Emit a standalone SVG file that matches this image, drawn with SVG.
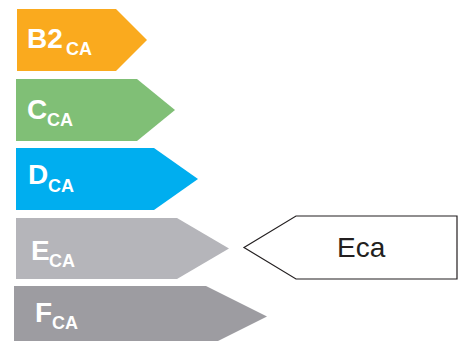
<svg xmlns="http://www.w3.org/2000/svg" width="460" height="341" viewBox="0 0 460 341">
<style>
.lbl{font-family:"Liberation Sans",Arial,sans-serif;font-weight:bold;fill:#ffffff;font-size:28px}
.sub{font-size:18px}
.eca{font-family:"Liberation Sans",Arial,sans-serif;font-size:28px;fill:#231f20}
</style>
<rect width="460" height="341" fill="#ffffff"/>
<g id="B2">
<polygon points="17,9 116,9 147,40 116,71 17,71" fill="#faaa1e"/>
<text class="lbl" x="27" y="48">B2<tspan class="sub" x="66" y="55">CA</tspan></text>
</g>
<g id="C">
<polygon points="16,79 137,79 175,110 137,141 16,141" fill="#80bf76"/>
<text class="lbl" x="27" y="119">C<tspan class="sub" x="47" y="126">CA</tspan></text>
</g>
<g id="D">
<polygon points="16,148 154,148 198,179 154,210 16,210" fill="#00aeef"/>
<text class="lbl" x="28" y="184">D<tspan class="sub" x="48" y="192">CA</tspan></text>
</g>
<g id="E">
<polygon points="16,218 177,218 229,248.5 177,279 16,279" fill="#b5b5ba"/>
<text class="lbl" x="31" y="260">E<tspan class="sub" x="49" y="267">CA</tspan></text>
</g>
<g id="F">
<polygon points="14,286 206,286 267,316.5 206,347 14,347" fill="#9d9ca1"/>
<text class="lbl" x="35" y="322">F<tspan class="sub" x="52" y="329">CA</tspan></text>
</g>
<g id="Eca">
<polygon points="244,247.5 296,216 457,216 457,279 296,279" fill="#ffffff" stroke="#231f20" stroke-width="1.2"/>
<text class="eca" x="337" y="257">Eca</text>
</g>
</svg>
